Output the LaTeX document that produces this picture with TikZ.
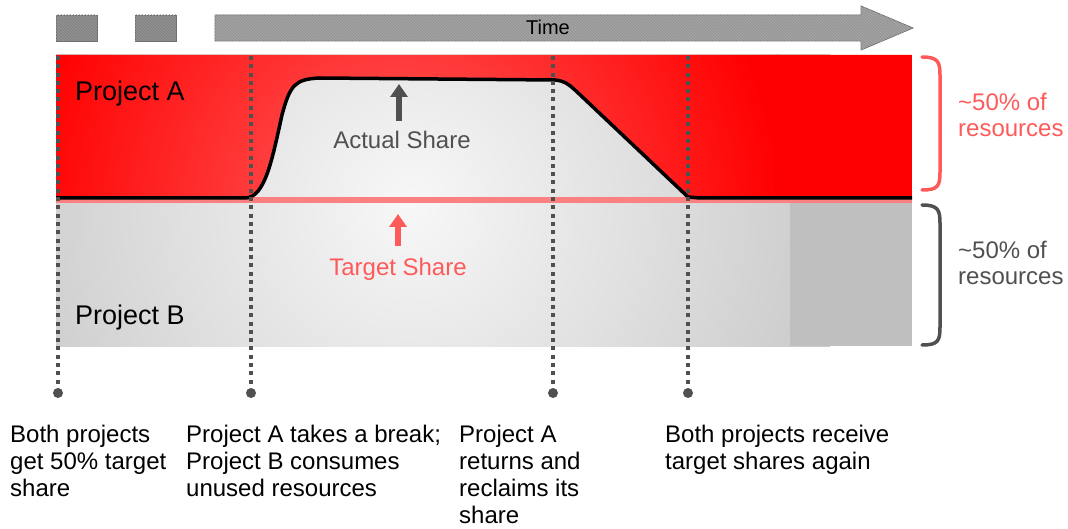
\documentclass[tikz,border=0pt]{standalone}
\usepackage{fontspec}
\setmainfont{Liberation Sans}
\usetikzlibrary{arrows.meta,patterns}
\definecolor{darkg}{HTML}{505050}
\definecolor{pinkl}{HTML}{FF8080}
\definecolor{redt}{HTML}{FF5A5A}
\definecolor{boxg}{HTML}{848484}
\definecolor{arrowg}{HTML}{979797}
\begin{document}
\begin{tikzpicture}[x=1pt,y=-1pt,
  lbl/.style={inner sep=0pt, font=\fontsize{24}{27}\selectfont, align=left, anchor=north west},
  big/.style={inner sep=0pt, font=\fontsize{27}{30}\selectfont, anchor=base west},
  dotline/.style={darkg, line width=4pt, dash pattern=on 4pt off 4.3pt},
  tl/.style={fill=boxg, draw=boxg!85!black, line width=0.8pt},
  brace/.style={line width=3.5pt, line cap=round}]
\useasboundingbox (0,0) rectangle (1068,529);

% top timeline
\fill[tl] (56,15) rectangle (97,41);
\fill[tl] (135,15) rectangle (176,41);
\fill[tl, fill=arrowg] (215,15) -- (861,15) -- (861,6) -- (913,28) -- (861,50) -- (861,41) -- (215,41) -- cycle;
\foreach \a/\b in {56/97,135/176}{\fill[pattern=north west lines, pattern color=white!18!boxg] (\a,15) rectangle (\b,41);}
\fill[pattern=north west lines, pattern color=white!18!arrowg] (215,15) -- (861,15) -- (861,6) -- (913,28) -- (861,50) -- (861,41) -- (215,41) -- cycle;
\node[inner sep=0pt, font=\fontsize{20}{22}\selectfont, anchor=base] (time) at (548,35) {Time};

% gray area
\begin{scope}
  \clip (56,55) rectangle (912,346);
  \shade[inner color=white!97!black, outer color=white!80!black] (-10,-215) rectangle (830,625);
  \fill[white!75!black] (790,198) rectangle (912,346);
\end{scope}

% red area
\begin{scope}
  \clip (56,55) -- (912,55) -- (912,198) -- (700,198) -- (688,197) -- (575,90)
     .. controls (568,84) and (565,81) .. (555,80) -- (320,78)
     .. controls (295,79) and (290,85) .. (282,115)
     .. controls (272,160) and (265,198) .. (245,198) -- (56,198) -- cycle;
  \shade[inner color=red!62!white, outer color=red] (20,-170) rectangle (780,590);
  \fill[red] (775,50) rectangle (912,200);
\end{scope}

% target line and actual curve
\draw[pinkl, line width=6pt] (56,200) -- (912,200);
\draw[black, line width=3.5pt, line join=round] (56,198) -- (245,198)
     .. controls (265,198) and (272,160) .. (282,115)
     .. controls (290,85) and (295,79) .. (320,78) -- (555,80)
     .. controls (565,81) and (568,84) .. (575,90) -- (688,197) -- (700,198) -- (912,198);

% dotted markers
\foreach \n/\x in {p/58,q/251,r/553,s/688}{
  \coordinate (\n top) at (\x,56);
  \coordinate (\n bot) at (\x,388);
  \draw[dotline] (\n top) -- (\n bot);
  \fill[darkg] (\x,393) circle (5);
}

% labels inside
\node[big] (pa) at (75,101) {Project A};
\node[big] (pb) at (75,324) {Project B};
\node[inner sep=0pt, font=\fontsize{24}{27}\selectfont, anchor=base, text=darkg] (actual) at (402,149) {Actual Share};
\node[inner sep=0pt, font=\fontsize{24}{27}\selectfont, anchor=base, text=redt] (target) at (398,276) {Target Share};
\coordinate (atip) at (399,84);
\coordinate (ttip) at (398,214);
\draw[darkg, line width=6pt, -{Triangle[length=13pt,width=17pt]}] (399,121) -- (atip);
\draw[redt, line width=6pt, -{Triangle[length=13pt,width=17pt]}] (398,246) -- (ttip);

% braces
\draw[brace, redt] (922,57) .. controls (938,57) and (940,62) .. (940,75) -- (940,172)
   .. controls (940,186) and (938,190) .. (922,190);
\draw[brace, darkg] (922,205) .. controls (938,205) and (940,210) .. (940,223) -- (940,327)
   .. controls (940,341) and (938,345) .. (922,345);
\node[lbl, text=redt, font=\fontsize{24}{26}\selectfont] (r1) at (958,93) {\textasciitilde50\% of\\resources};
\node[lbl, text=darkg, font=\fontsize{24}{26}\selectfont] (r2) at (958,241) {\textasciitilde50\% of\\resources};

% bottom texts
\node[lbl] (t1) at (10,425) {Both projects\\get 50\% target\\share};
\node[lbl] (t2) at (186,425) {Project A takes a break;\\Project B consumes\\unused resources};
\node[lbl] (t3) at (459,425) {Project A\\returns and\\reclaims its\\share};
\node[lbl] (t4) at (665,425) {Both projects receive\\target shares again};
\end{tikzpicture}
\end{document}
